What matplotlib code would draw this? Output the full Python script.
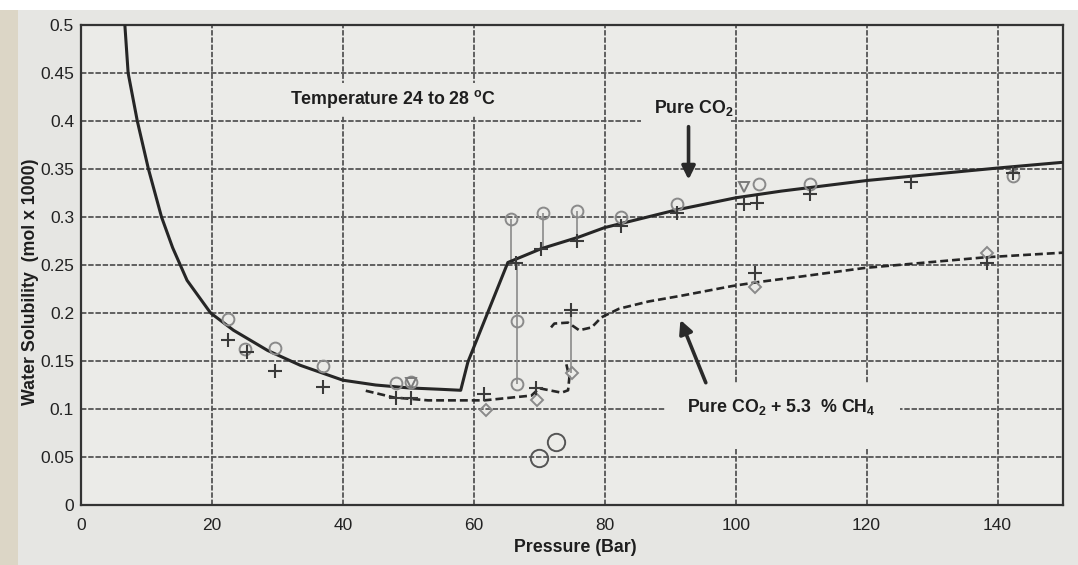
import matplotlib
matplotlib.use("Agg")
import matplotlib.pyplot as plt
from matplotlib.patches import Rectangle

plt.rcParams['font.family'] = ['Liberation Sans', 'DejaVu Sans']
plt.rcParams['mathtext.fontset'] = 'custom'
plt.rcParams['mathtext.rm'] = 'Liberation Sans:bold'
plt.rcParams['mathtext.bf'] = 'Liberation Sans:bold'
plt.rcParams['mathtext.it'] = 'Liberation Sans:bold'

# ---------------- data ----------------
co2_p = [6.7, 7.2, 8.6, 10.3, 12.3, 14.0, 16.2, 19.8, 23.3, 28.5, 33.5, 40, 45, 50, 55, 58.0,
         59.1, 65.2, 70.3, 76, 80, 90.7, 100, 107, 120, 140, 150]
co2_s = [0.5, 0.45, 0.4, 0.35, 0.3, 0.268, 0.234, 0.2, 0.182, 0.161, 0.1455, 0.130, 0.125, 0.122, 0.1205, 0.1195,
         0.149, 0.2526, 0.267, 0.279, 0.289, 0.307, 0.320, 0.327, 0.338, 0.351, 0.357]

ch4_p1 = [43.5, 47.8, 53, 61.6, 68.8, 70, 73.4, 74.4, 74.6, 74.1]
ch4_s1 = [0.119, 0.112, 0.109, 0.109, 0.114, 0.1216, 0.117, 0.1195, 0.133, 0.1476]
ch4_p2 = [71.8, 72.3, 74.4, 76.1, 78, 79.5, 82.2, 86.7, 91.7, 99.4, 103.2, 110, 119.8, 138.1, 150.4]
ch4_s2 = [0.185, 0.189, 0.190, 0.182, 0.185, 0.1955, 0.2045, 0.212, 0.218, 0.228, 0.232, 0.238, 0.247, 0.258, 0.263]

circ_p = [22.4, 25.1, 29.6, 37, 48.1, 50.4, 65.7, 66.6, 66.6, 70.6, 75.8, 82.5, 91, 103.5, 111.3, 142.4]
circ_s = [0.194, 0.163, 0.164, 0.1445, 0.127, 0.128, 0.298, 0.192, 0.1258, 0.3046, 0.3066, 0.2995, 0.314, 0.3347, 0.3347, 0.343]

plus_p = [22.5, 25.3, 29.7, 37, 48.1, 50.4, 61.6, 66.5, 69.5, 70.3, 74.9, 75.8, 82.5, 91, 101.2, 103.2,
          102.9, 111.3, 126.8, 138.4, 142.4]
plus_s = [0.1715, 0.159, 0.140, 0.1227, 0.111, 0.111, 0.116, 0.2516, 0.1216, 0.267, 0.2027, 0.2755, 0.291, 0.3046,
          0.314, 0.315, 0.242, 0.324, 0.336, 0.2516, 0.346]

diam_p = [61.9, 69.7, 75, 102.9, 138.4]
diam_s = [0.099, 0.109, 0.137, 0.2266, 0.262]

tri_p = [50.4, 101.2]
tri_s = [0.127, 0.331]

big_p = [70, 72.6]
big_s = [0.049, 0.0655]

err_p = [65.7, 66.6, 70.5, 75.8, 74.9]
err_lo = [0.2516, 0.126, 0.267, 0.2755, 0.137]
err_hi = [0.298, 0.2516, 0.3046, 0.3066, 0.2027]

xticks = [0, 20, 40, 60, 80, 100, 120, 140]
yticks = [0, 0.05, 0.1, 0.15, 0.2, 0.25, 0.3, 0.35, 0.4, 0.45, 0.5]
ytick_labels = ['0', '0.05', '0.1', '0.15', '0.2', '0.25', '0.3', '0.35', '0.4', '0.45', '0.5']

# ---------------- figure ----------------
BG = '#e6e6e3'
AXBG = '#ebebe8'
fig = plt.figure(figsize=(10.78, 5.65), dpi=100, facecolor=BG)
fig.patches.append(Rectangle((0, 1 - 10 / 565), 1, 10 / 565, transform=fig.transFigure,
                             facecolor='white', edgecolor='none', zorder=-5))
fig.patches.append(Rectangle((0, 0), 18 / 1078, 1 - 10 / 565, transform=fig.transFigure,
                             facecolor='#dcd6c6', edgecolor='none', zorder=-5))
ax = fig.add_axes([81 / 1078, 1 - 505 / 565, (1063 - 81) / 1078, (505 - 25) / 565])
ax.set_zorder(1)
ax.set_facecolor(AXBG)
ax.set_xlim(0, 150)
ax.set_ylim(0, 0.5)
ax.set_xticks(xticks)
ax.set_yticks(yticks)
ax.set_yticklabels(ytick_labels)
ax.tick_params(length=0, labelsize=12.5, colors='#222222')
ax.tick_params(axis='x', pad=9)
ax.tick_params(axis='y', pad=5)
ax.set_axisbelow(True)
ax.grid(True, color='#555555', lw=1.3, ls=(0, (3, 1)))
for s in ax.spines.values():
    s.set_color('#333333')
    s.set_linewidth(1.6)

# masks behind labels (as in the original, the label boxes hide the grid)
for (x0, x1, y0, y1) in [(30.5, 65.5, 0.405, 0.44), (85.6, 99.2, 0.37, 0.445), (89.4, 125.1, 0.059, 0.127)]:
    ax.add_patch(Rectangle((x0, y0), x1 - x0, y1 - y0, facecolor=AXBG, edgecolor='none', zorder=1))

# error bars
ax.vlines(err_p, err_lo, err_hi, colors='#8a8a8a', lw=1.2, zorder=2)

# curves
ax.plot(co2_p, co2_s, color='#262626', lw=2.2, zorder=3)
ax.plot(ch4_p1, ch4_s1, color='#262626', lw=1.9, ls=(0, (3, 1.5)), zorder=3)
ax.plot(ch4_p2, ch4_s2, color='#262626', lw=1.9, ls=(0, (3, 1.5)), zorder=3)

# markers
ax.plot(circ_p, circ_s, ls='none', marker='o', ms=8.5, mfc='none', mec='#8a8a8a', mew=1.4, zorder=4)
ax.plot(diam_p, diam_s, ls='none', marker='D', ms=6.5, mfc='none', mec='#8a8a8a', mew=1.4, zorder=4)
ax.plot(tri_p, tri_s, ls='none', marker='v', ms=7, mfc='none', mec='#7a7a7a', mew=1.4, zorder=4)
ax.plot(plus_p, plus_s, ls='none', marker='+', ms=10, mec='#3a3a3a', mew=1.5, zorder=5)
ax.plot(big_p, big_s, ls='none', marker='o', ms=12.5, mfc='none', mec='#555555', mew=1.4, zorder=4)

# annotations
ax.text(32.0, 0.423, r'Temperature 24 to 28 $^{\mathbf{o}}$C', fontsize=12.8, fontweight='bold',
        ha='left', va='center', color='#1e1e1e', zorder=6)
ax.text(87.6, 0.414, r'Pure CO$_{\mathbf{2}}$', fontsize=12.8, fontweight='bold',
        ha='left', va='center', color='#1e1e1e', zorder=6)
ax.text(92.5, 0.102, r'Pure CO$_{\mathbf{2}}$ + 5.3  % CH$_{\mathbf{4}}$', fontsize=12.8, fontweight='bold',
        ha='left', va='center', color='#1e1e1e', zorder=6)
ax.annotate('', xy=(92.8, 0.336), xytext=(92.8, 0.397),
            arrowprops=dict(arrowstyle='-|>,head_length=0.8,head_width=0.4', color='#2a2a2a', lw=2.6), zorder=6)
ax.annotate('', xy=(91.4, 0.1955), xytext=(95.6, 0.1247),
            arrowprops=dict(arrowstyle='-|>,head_length=0.8,head_width=0.4', color='#2a2a2a', lw=2.6), zorder=6)

ax.set_xlabel('Pressure (Bar)', fontsize=12.8, fontweight='bold', color='#1e1e1e')
ax.set_ylabel('Water Solubility  (mol x 1000)', fontsize=12.8, fontweight='bold', color='#1e1e1e')
ax.xaxis.set_label_coords((575 - 81) / 982, -(539 - 505) / 480)
ax.yaxis.set_label_coords((39 - 81) / 982, (505 - 282) / 480)

fig.savefig('out.png', dpi=100, facecolor=fig.get_facecolor())
